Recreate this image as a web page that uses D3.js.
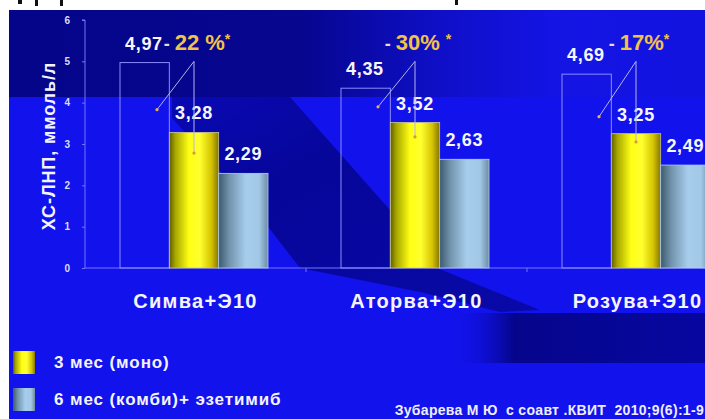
<!DOCTYPE html>
<html><head><meta charset="utf-8">
<script src="https://cdn.jsdelivr.net/npm/d3@7"></script>
<style>html,body{margin:0;padding:0;background:#fff;overflow:hidden}svg{display:block}</style>
</head><body>
<script>
// ---- data ----
const categories = ["Симва+Э10", "Аторва+Э10", "Розува+Э10"];
const baselineVals = [4.97, 4.35, 4.69];
const monoVals = [3.28, 3.52, 3.25];
const comboVals = [2.29, 2.63, 2.49];
const reductionNums = ["22 %", "30% ", "17%"];
const seriesNames = ["3 мес (моно)", "6 мес (комби)+ эзетимиб"];
const yTicks = [0, 1, 2, 3, 4, 5, 6];
const connectorApex = [5.0, 5.0, 5.0];
const connectorLeft = [3.83, 3.9, 3.66];
const connectorStem = [2.78, 3.17, 3.05];
const yTitle = "ХС-ЛНП, ммоль/л";
const citation = "Зубарева М Ю  с соавт .КВИТ  2010;9(6):1-9";

const W = 705, H = 419;
const FONT = "'Liberation Sans', Arial, sans-serif";
const svg = d3.select("body").append("svg").attr("width", W).attr("height", H);
const defs = svg.append("defs");

function lin(id, stops, x2, y2) {
  const g = defs.append("linearGradient").attr("id", id)
    .attr("x1", "0%").attr("y1", "0%").attr("x2", x2 || "100%").attr("y2", y2 || "0%");
  stops.forEach(s => g.append("stop").attr("offset", s[0]).attr("stop-color", s[1]).attr("stop-opacity", s[2] == null ? 1 : s[2]));
}
lin("gTop", [["0%", "#05058a"], ["42%", "#06068f"], ["62%", "#0f0fc8"], ["78%", "#1414e4"], ["100%", "#1313e0"]]);
lin("gDiag", [["0%", "#0909b4"], ["35%", "#06069a"], ["100%", "#0909a8"]], "100%", "100%");
lin("gRect", [["0%", "#1212ea", 0], ["25%", "#05058c"], ["100%", "#0707a0"]]);
lin("gYellow", [["0%", "#5e5e00"], ["12%", "#a6a600"], ["40%", "#ffff14"], ["62%", "#ffff30"], ["85%", "#d4c400"], ["100%", "#857500"]]);
lin("gBlue", [["0%", "#3d5a6e"], ["22%", "#7394ad"], ["55%", "#a6cdec"], ["82%", "#a2c8e6"], ["100%", "#6c8ca4"]]);

// ---- background ----
svg.append("rect").attr("width", W).attr("height", H).attr("fill", "#ffffff");
const bg = svg.append("g");
bg.append("rect").attr("x", 9).attr("y", 10).attr("width", W - 9).attr("height", H - 10).attr("fill", "#1212ec");
bg.append("rect").attr("x", 9).attr("y", 10).attr("width", W - 9).attr("height", 87).attr("fill", "url(#gTop)");
bg.append("path").attr("fill", "url(#gDiag)")
  .attr("d", d3.line()([[172, 97], [290, 97], [390, 210], [437, 268], [540, 310], [500, 312], [420, 292], [300, 268], [255, 210], [172, 118]]) + "Z");
bg.append("rect").attr("x", 450).attr("y", 313).attr("width", W - 450).attr("height", 50).attr("fill", "url(#gRect)");
// cut-off fragments of text above the frame
[[18, 4, 4], [35, 3, 6], [60, 3, 6], [455, 3, 5]].forEach(d =>
  svg.append("rect").attr("x", d[0]).attr("y", 0).attr("width", d[1]).attr("height", d[2]).attr("fill", "#111"));

// ---- scales ----
const x0 = d3.scaleBand().domain(categories).range([85, 748]).padding(0);
const x1 = d3.scaleBand().domain(["base", "mono", "combo"]).range([35, 183]);
const y = d3.scaleLinear().domain([0, 6]).range([268, 20]);
const fmt = v => d3.format(".2f")(v).replace(".", ",");
const AX = "#7474ff";

// y axis
const yAxis = svg.append("g").attr("transform", "translate(85,0)")
  .call(d3.axisLeft(y).tickValues(yTicks).tickSize(3).tickPadding(12).tickFormat(d3.format("d")));
yAxis.select(".domain").attr("stroke", AX).attr("d", `M-3,${y(6)}H0V${y(0)}`);
yAxis.selectAll(".tick line").attr("stroke", AX);
yAxis.selectAll("text").attr("fill", "#dcdcf4").attr("font-family", FONT).attr("font-weight", "bold").attr("font-size", 10);

// x axis
const xAxis = svg.append("g").attr("transform", `translate(0,${y(0)})`)
  .call(d3.axisBottom(x0).tickValues([]).tickSizeOuter(0));
xAxis.select(".domain").attr("stroke", AX).attr("d", `M85,0H${W}`);
xAxis.selectAll(".sep").data(categories.slice(1)).enter().append("line")
  .attr("x1", d => x0(d)).attr("x2", d => x0(d)).attr("y1", 0).attr("y2", 4).attr("stroke", AX);

// category labels
svg.append("g").selectAll("text").data(categories).enter().append("text")
  .attr("x", d => x0(d) + x0.bandwidth() / 2).attr("y", 308)
  .attr("text-anchor", "middle").attr("fill", "#f4f4ff").attr("letter-spacing", 1.3)
  .attr("font-family", FONT).attr("font-weight", "bold").attr("font-size", 20)
  .text(d => d);

// y title
svg.append("text").attr("transform", `translate(55,${146}) rotate(-90)`)
  .attr("text-anchor", "middle").attr("fill", "#f4f4ff").attr("letter-spacing", 0.9)
  .attr("font-family", FONT).attr("font-weight", "bold").attr("font-size", 18)
  .text(yTitle);

// ---- bars ----
const groups = svg.append("g").selectAll("g").data(categories).enter().append("g")
  .attr("transform", d => `translate(${x0(d)},0)`);
const bw = x1.bandwidth();

groups.append("rect").attr("x", x1("base")).attr("y", (d, i) => y(baselineVals[i]))
  .attr("width", bw).attr("height", (d, i) => y(0) - y(baselineVals[i]))
  .attr("fill", "none").attr("stroke", "#8c8cff").attr("stroke-width", 1);
groups.append("rect").attr("x", x1("mono")).attr("y", (d, i) => y(monoVals[i]))
  .attr("width", bw).attr("height", (d, i) => y(0) - y(monoVals[i]))
  .attr("fill", "url(#gYellow)").attr("stroke", "#c8c890").attr("stroke-width", 0.8);
groups.append("rect").attr("x", x1("combo")).attr("y", (d, i) => y(comboVals[i]))
  .attr("width", bw).attr("height", (d, i) => y(0) - y(comboVals[i]))
  .attr("fill", "url(#gBlue)").attr("stroke", "#b8d0f0").attr("stroke-width", 0.8);

// value labels
const lab = (sel, key, vals, anchor, dx) => sel.append("text")
  .attr("x", x1(key) + dx).attr("y", (d, i) => y(vals[i]) - 13)
  .attr("text-anchor", anchor).attr("fill", "#f6f6ff").attr("letter-spacing", 0.7)
  .attr("font-family", FONT).attr("font-weight", "bold").attr("font-size", 18)
  .text((d, i) => fmt(vals[i]));
lab(groups, "base", baselineVals, "start", 5);
lab(groups, "mono", monoVals, "middle", bw / 2);
lab(groups, "combo", comboVals, "middle", bw / 2);

// connectors
const cx = x1("mono") + bw / 2;
groups.append("path").attr("fill", "none").attr("stroke", "#b4b4ec").attr("stroke-width", 1)
  .attr("d", (d, i) => d3.line()([[x1("base") + bw * 0.75, y(connectorLeft[i])], [cx, y(connectorApex[i])], [cx, y(connectorStem[i])]]));
groups.append("circle").attr("cx", x1("base") + bw * 0.75).attr("cy", (d, i) => y(connectorLeft[i])).attr("r", 1.6).attr("fill", "#e8b050");
groups.append("circle").attr("cx", cx).attr("cy", (d, i) => y(connectorStem[i])).attr("r", 1.6).attr("fill", "#d89a30");

// reduction labels
const rt = groups.append("text").attr("x", cx + 3).attr("y", (d, i) => y(connectorApex[i]) - 11)
  .attr("text-anchor", "middle").attr("font-family", FONT).attr("font-weight", "bold").attr("font-size", 22)
  .attr("xml:space", "preserve");
rt.append("tspan").attr("fill", "#e8dcc0").attr("font-size", 18).text("- ");
rt.append("tspan").attr("fill", "#f2c24a").text((d, i) => reductionNums[i]);
rt.append("tspan").attr("fill", "#f2c24a").attr("font-size", 14).attr("dy", -6).text("*");

// ---- legend ----
const colors = ["url(#gYellow)", "url(#gBlue)"];
const leg = svg.append("g").selectAll("g").data(seriesNames).enter().append("g")
  .attr("transform", (d, i) => `translate(13,${351 + i * 37})`);
leg.append("rect").attr("width", 22).attr("height", 23).attr("fill", (d, i) => colors[i]);
leg.append("text").attr("x", 41).attr("y", 17).attr("fill", "#f4f4ff").attr("letter-spacing", 0.9)
  .attr("font-family", FONT).attr("font-weight", "bold").attr("font-size", 17).text(d => d);

svg.append("text").attr("x", 704).attr("y", 415).attr("text-anchor", "end").attr("fill", "#eeeeff")
  .attr("letter-spacing", 0.3).attr("xml:space", "preserve")
  .attr("font-family", FONT).attr("font-weight", "bold").attr("font-size", 14).text(citation);
</script>
</body></html>
